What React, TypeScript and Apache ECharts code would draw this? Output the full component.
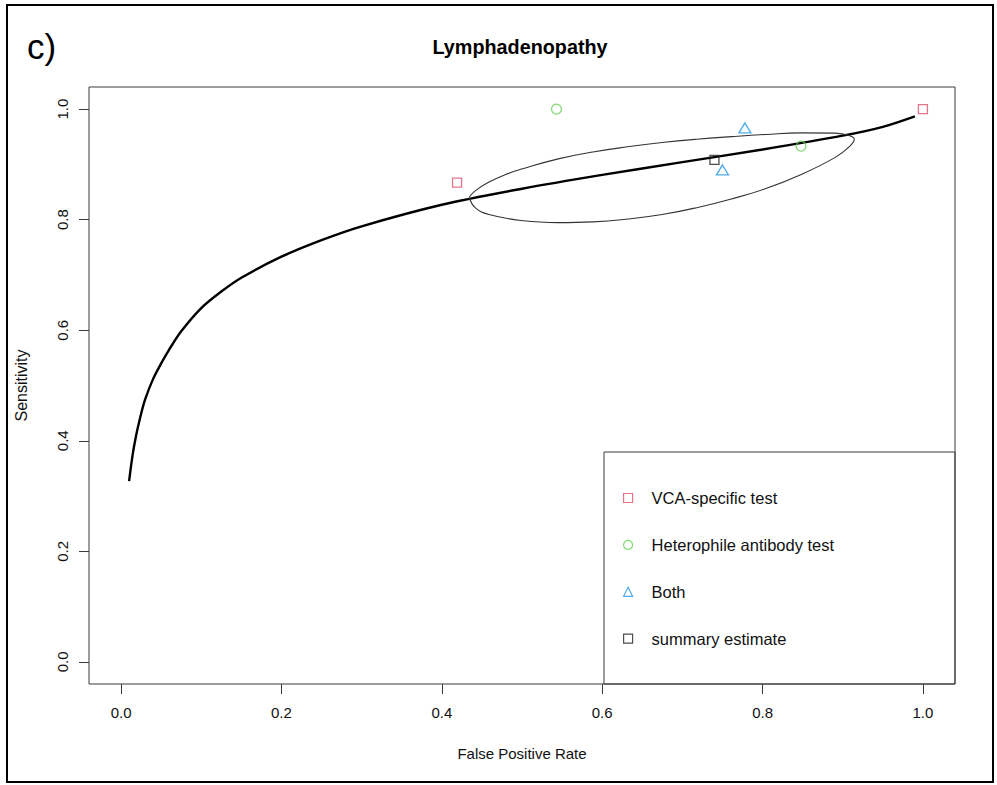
import React, { useEffect, useRef } from "react";
import * as echarts from "echarts";

// ---- data ----
const tickValues = [0, 0.2, 0.4, 0.6, 0.8, 1.0];

const seriesNames = ["VCA-specific test", "Heterophile antibody test", "Both", "summary estimate"];

// [false positive rate, sensitivity]
const vcaPoints = [
  [0.419, 0.867],
  [1.0, 1.0],
];
const heterophilePoints = [
  [0.543, 1.0],
  [0.848, 0.933],
];
const bothPoints = [
  [0.778, 0.966],
  [0.75, 0.89],
];
const summaryPoint = [[0.74, 0.908]];

// SROC curve
const srocFpr = [0.01, 0.0125, 0.015, 0.0175, 0.02, 0.025, 0.03, 0.04, 0.05, 0.06, 0.075, 0.1, 0.125, 0.15, 0.2, 0.25, 0.3, 0.4, 0.5, 0.6, 0.7, 0.8, 0.9, 0.95, 0.99];
const srocSens = [0.327, 0.355, 0.38, 0.4, 0.418, 0.449, 0.475, 0.512, 0.54, 0.565, 0.598, 0.64, 0.67, 0.695, 0.733, 0.763, 0.788, 0.827, 0.856, 0.881, 0.904, 0.927, 0.952, 0.968, 0.987];

// confidence region outline (upper arc left->right, lower arc right->left)
const regionFpr = [0.4342, 0.4416, 0.4588, 0.4803, 0.5019, 0.5452, 0.5884, 0.6316, 0.6747, 0.7179, 0.7611, 0.8042, 0.8475, 0.8907, 0.9079, 0.9144, 0.9079, 0.8907, 0.8475, 0.8042, 0.7611, 0.7179, 0.6747, 0.6316, 0.5884, 0.5452, 0.5019, 0.4588, 0.4416, 0.4342];
const regionSens = [0.8406, 0.8520, 0.8680, 0.8820, 0.8925, 0.9100, 0.9225, 0.9318, 0.9395, 0.9455, 0.9502, 0.9542, 0.9570, 0.9565, 0.9522, 0.9458, 0.9315, 0.9127, 0.8813, 0.8563, 0.8375, 0.8217, 0.8092, 0.8011, 0.796, 0.7947, 0.798, 0.8092, 0.8217, 0.8406];

const FONT = "'Liberation Sans', Arial, Helvetica, sans-serif";

export default function App() {
  const ref = useRef<HTMLDivElement>(null);

  useEffect(() => {
    if (!ref.current) return;
    const chart = echarts.init(ref.current, undefined, { renderer: "svg" });

    const sroc = srocFpr.map((f, i) => [f, srocSens[i]]);
    const region = regionFpr.map((f, i) => [f, regionSens[i]]);

    const hollow = (color: string) => ({
      color: "rgba(0,0,0,0)",
      borderColor: color,
      borderWidth: 1.3,
    });

    const option: any = {
      animation: false,
      backgroundColor: "#ffffff",
      textStyle: { fontFamily: FONT },
      grid: {
        left: 89,
        top: 87,
        width: 866,
        height: 597,
        show: true,
        borderColor: "#3a3a3a",
        borderWidth: 1,
        backgroundColor: "transparent",
      },
      xAxis: {
        type: "value",
        min: -0.04,
        max: 1.04,
        name: "False Positive Rate",
        nameLocation: "middle",
        nameGap: 62,
        nameTextStyle: { fontSize: 15, color: "#111", fontFamily: FONT },
        axisLine: { show: false, onZero: false },
        splitLine: { show: false },
        axisTick: {
          show: true,
          length: 10,
          customValues: tickValues,
          lineStyle: { color: "#3a3a3a", width: 1 },
        },
        axisLabel: {
          customValues: tickValues,
          formatter: (v: number) => v.toFixed(1),
          fontSize: 15,
          color: "#111",
          margin: 21,
          fontFamily: FONT,
        },
      },
      yAxis: {
        type: "value",
        min: -0.04,
        max: 1.04,
        name: "Sensitivity",
        nameLocation: "middle",
        nameGap: 60,
        nameTextStyle: { fontSize: 16, color: "#111", fontFamily: FONT },
        axisLine: { show: false, onZero: false },
        splitLine: { show: false },
        axisTick: {
          show: true,
          length: 10,
          customValues: tickValues,
          lineStyle: { color: "#3a3a3a", width: 1 },
        },
        axisLabel: {
          customValues: tickValues,
          formatter: (v: number) => v.toFixed(1),
          rotate: 90,
          fontSize: 15,
          color: "#111",
          margin: 19,
          fontFamily: FONT,
        },
      },
      legend: {
        data: seriesNames,
        orient: "vertical",
        left: 618,
        top: 483,
        itemWidth: 9,
        itemHeight: 9,
        itemGap: 26.9,
        itemStyle: { borderWidth: 1.2 },
        textStyle: {
          fontSize: 16.5,
          color: "#111",
          fontFamily: FONT,
          lineHeight: 20,
          padding: [0, 0, 0, 14],
        },
        selectedMode: false,
      },
      graphic: [
        {
          type: "rect",
          shape: { x: 7, y: 5, width: 986, height: 777 },
          style: { fill: "none", stroke: "#000", lineWidth: 2 },
          silent: true,
        },
        {
          type: "rect",
          shape: { x: 604, y: 452, width: 351, height: 232 },
          style: { fill: "none", stroke: "#3a3a3a", lineWidth: 1 },
          silent: true,
        },
        {
          type: "text",
          x: 27,
          y: 46,
          style: {
            text: "c)",
            font: `35px ${FONT}`,
            fill: "#000",
            textAlign: "left",
            textVerticalAlign: "middle",
          },
        },
        {
          type: "text",
          x: 520,
          y: 47,
          style: {
            text: "Lymphadenopathy",
            font: `bold 19.8px ${FONT}`,
            fill: "#000",
            textAlign: "center",
            textVerticalAlign: "middle",
          },
        },
      ],
      series: [
        {
          name: "SROC",
          type: "line",
          data: sroc,
          showSymbol: false,
          smooth: 0.3,
          lineStyle: { color: "#000", width: 2.4 },
          z: 3,
        },
        {
          name: "region",
          type: "line",
          data: region,
          showSymbol: false,
          smooth: 0.45,
          lineStyle: { color: "#333", width: 1.1 },
          z: 3,
        },
        {
          name: seriesNames[0],
          type: "scatter",
          symbol: "rect",
          symbolSize: 9,
          data: vcaPoints,
          itemStyle: hollow("#DF536B"),
          z: 4,
        },
        {
          name: seriesNames[1],
          type: "scatter",
          symbol: "circle",
          symbolSize: 10,
          data: heterophilePoints,
          itemStyle: hollow("#61D04F"),
          z: 4,
        },
        {
          name: seriesNames[2],
          type: "scatter",
          symbol: "triangle",
          symbolSize: [12, 10],
          data: bothPoints,
          itemStyle: hollow("#2297E6"),
          z: 4,
        },
        {
          name: seriesNames[3],
          type: "scatter",
          symbol: "rect",
          symbolSize: 9,
          data: summaryPoint,
          itemStyle: hollow("#222"),
          z: 4,
        },
      ],
    };

    chart.setOption(option);
    return () => {
      chart.dispose();
    };
  }, []);

  return (
    <div
      ref={ref}
      style={{ position: "fixed", left: 0, top: 0, width: 997, height: 785, background: "#fff" }}
    />
  );
}
